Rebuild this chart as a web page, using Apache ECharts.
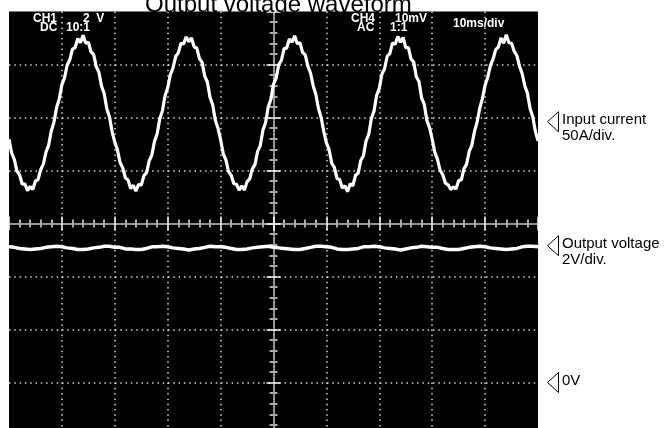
<!DOCTYPE html>
<html>
<head>
<meta charset="utf-8">
<script src="https://cdn.jsdelivr.net/npm/echarts@6/dist/echarts.min.js"></script>
<style>
html,body{margin:0;padding:0;background:#fff;}
#scope{width:666px;height:428px;}
</style>
</head>
<body>
<div id="scope"></div>
<script>
// time axis: ms, 10ms/div, centre of screen = 0
var timeStart = -50;
var currentStep = 0.5;   // ms between current samples
var voltageStep = 1;     // ms between voltage samples

// CH1 input current trace, in divisions (noise included)
var currentTrace = [
  1.59,1.33,1.21,0.99,0.92,0.74,0.75,0.62,0.70,0.64,0.80,0.83,1.02,1.12,1.35,1.48,1.75,1.91,2.19,2.35,
  2.62,2.75,2.99,3.09,3.29,3.32,3.49,3.41,3.55,3.40,3.42,3.24,3.19,2.96,2.85,2.59,2.45,2.16,2.01,1.73,
  1.53,1.39,1.15,1.05,0.86,0.82,0.66,0.72,0.61,0.74,0.72,0.90,0.96,1.18,1.29,1.55,1.69,1.97,2.13,2.41,
  2.56,2.81,2.93,3.15,3.22,3.40,3.39,3.52,3.43,3.50,3.33,3.31,3.11,3.04,2.78,2.67,2.38,2.24,1.95,1.80,
  1.58,1.32,1.20,0.98,0.91,0.75,0.74,0.63,0.71,0.63,0.79,0.84,1.03,1.11,1.36,1.47,1.76,1.90,2.20,2.34,
  2.63,2.74,3.00,3.08,3.30,3.31,3.48,3.42,3.54,3.39,3.41,3.23,3.18,2.97,2.84,2.60,2.44,2.17,2.00,1.74,
  1.52,1.40,1.14,1.06,0.85,0.83,0.67,0.71,0.60,0.75,0.71,0.91,0.95,1.19,1.28,1.56,1.68,1.98,2.12,2.42,
  2.55,2.82,2.92,3.16,3.21,3.41,3.38,3.53,3.42,3.51,3.32,3.32,3.10,3.05,2.77,2.68,2.37,2.25,1.94,1.81,
  1.59,1.34,1.21,1.00,0.92,0.76,0.73,0.64,0.69,0.65,0.81,0.82,1.03,1.12,1.36,1.48,1.74,1.92,2.18,2.36,
  2.61,2.76,2.98,3.10,3.28,3.33,3.50,3.40,3.56,3.41,3.40,3.25,3.17,2.97,2.83,2.60,2.46,2.17,2.02,1.74,
  1.56
];

// CH4 output voltage trace, in divisions
var voltageTrace = [
  -0.44,-0.45,-0.47,-0.48,-0.49,-0.48,-0.47,-0.45,-0.44,-0.43,
  -0.44,-0.46,-0.47,-0.49,-0.49,-0.48,-0.46,-0.45,-0.43,-0.43,
  -0.45,-0.45,-0.48,-0.48,-0.49,-0.49,-0.47,-0.44,-0.44,-0.43,
  -0.44,-0.46,-0.47,-0.48,-0.50,-0.48,-0.47,-0.45,-0.43,-0.44,
  -0.44,-0.45,-0.47,-0.49,-0.49,-0.48,-0.46,-0.45,-0.44,-0.43,
  -0.45,-0.46,-0.47,-0.48,-0.49,-0.49,-0.47,-0.45,-0.43,-0.43,
  -0.44,-0.45,-0.48,-0.49,-0.49,-0.48,-0.47,-0.44,-0.44,-0.43,
  -0.44,-0.46,-0.47,-0.48,-0.50,-0.48,-0.46,-0.45,-0.43,-0.44,
  -0.45,-0.45,-0.47,-0.49,-0.49,-0.49,-0.47,-0.45,-0.44,-0.43,
  -0.44,-0.46,-0.47,-0.48,-0.49,-0.48,-0.47,-0.44,-0.43,-0.43,
  -0.44
];

// level markers on the right of the screen (divisions)
var markerLevels = [1.92, -0.42, -3.0];
var markerLabels = ['Input current\n50A/div.', 'Output voltage\n2V/div.', '0V'];

// scope readout texts
var readouts = [
  {text: 'CH1', x: 33, y: 13},
  {text: '2  V', x: 83, y: 13},
  {text: 'DC', x: 40, y: 22},
  {text: '10:1', x: 66, y: 22},
  {text: 'CH4', x: 351, y: 13},
  {text: '10mV', x: 395, y: 13},
  {text: 'AC', x: 357, y: 22},
  {text: '1:1', x: 390, y: 22},
  {text: '10ms/div', x: 453, y: 18}
];

function toPairs(values, step) {
  var out = [];
  for (var i = 0; i < values.length; i++) {
    out.push([timeStart + i * step, values[i]]);
  }
  return out;
}

var gridDots = {color: '#d8d8d8', width: 1.5, type: [1.5, 3.8]};

function centreAxis(kind, pos) {
  var isX = kind === 'x';
  return {
    type: 'value',
    min: isX ? -50 : -4,
    max: isX ? 50 : 4,
    interval: isX ? 10 : 1,
    position: pos,
    axisLine: {show: true, onZero: true, lineStyle: {color: '#9a9a9a', width: 2, type: [2, 2]}},
    axisTick: {show: true, length: 7, lineStyle: {color: '#fff', width: 1.5}},
    minorTick: {show: true, splitNumber: 5, length: 4, lineStyle: {color: '#aaa', width: 2}},
    axisLabel: {show: false},
    splitLine: {show: false}
  };
}

var chart = document.getElementById('scope');
var echart = echarts.init(chart);

var graphics = [];
readouts.forEach(function (r) {
  graphics.push({
    type: 'text', x: r.x, y: r.y, z: 100,
    style: {text: r.text, fill: '#fff', fontSize: 12, fontWeight: 'bold',
      fontFamily: 'Liberation Sans', textVerticalAlign: 'top'}
  });
});

var option = {
  animation: false,
  backgroundColor: '#fff',
  title: {
    text: 'Output voltage waveform',
    left: 140,
    top: -12,
    textStyle: {fontSize: 24, fontWeight: 'normal', color: '#000', fontFamily: 'Liberation Sans'}
  },
  grid: {
    left: 9, top: 11.5, width: 529, height: 424,
    outerBoundsMode: 'none',
    show: true, backgroundColor: '#000', borderWidth: 0
  },
  xAxis: [
    {
      type: 'value', min: -50, max: 50, interval: 10,
      axisLine: {show: false, onZero: false}, axisTick: {show: false}, axisLabel: {show: false},
      splitLine: {show: true, showMinLine: false, showMaxLine: false, lineStyle: gridDots}
    },
    centreAxis('x', 'bottom'),
    centreAxis('x', 'top')
  ],
  yAxis: [
    {
      type: 'value', min: -4, max: 4, interval: 1,
      axisLine: {show: false, onZero: false}, axisTick: {show: false}, axisLabel: {show: false},
      splitLine: {show: true, showMinLine: false, showMaxLine: false, lineStyle: gridDots}
    },
    centreAxis('y', 'left'),
    centreAxis('y', 'right')
  ],
  series: [
    {
      name: 'Input current', type: 'line', xAxisIndex: 0, yAxisIndex: 0,
      data: toPairs(currentTrace, currentStep),
      showSymbol: false, smooth: false,
      lineStyle: {color: '#fff', width: 3.2}, z: 10
    },
    {
      name: 'Output voltage', type: 'line', xAxisIndex: 0, yAxisIndex: 0,
      data: toPairs(voltageTrace, voltageStep),
      showSymbol: false, smooth: false,
      lineStyle: {color: '#fff', width: 3.5}, z: 10
    }
  ],
  graphic: graphics
};

echart.setOption(option);

// level markers: triangle + label, placed from the y scale
var markerGraphics = graphics.slice();
markerLevels.forEach(function (lv, i) {
  var py = echart.convertToPixel({yAxisIndex: 0}, lv);
  markerGraphics.push({
    type: 'polygon',
    shape: {points: [[547.5, py], [558.5, py - 10], [558.5, py + 10]]},
    style: {fill: '#fff', stroke: '#000', lineWidth: 1}
  });
  markerGraphics.push({
    type: 'text', x: 562, y: py - 10,
    style: {text: markerLabels[i], fill: '#000', fontSize: 15, lineHeight: 16,
      fontFamily: 'Liberation Sans', textVerticalAlign: 'top'}
  });
});
echart.setOption({graphic: markerGraphics}, {replaceMerge: ['graphic']});
</script>
</body>
</html>
